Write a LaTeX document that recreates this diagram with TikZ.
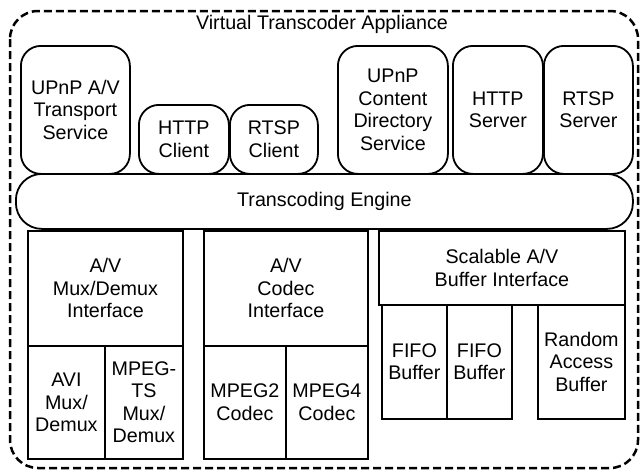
\documentclass[tikz,border=0pt]{standalone}
\usepackage{fontspec}
\setmainfont{Liberation Sans}
\begin{document}
\begin{tikzpicture}[x=0.5pt, y=-0.5pt,
			box/.style 2 args={draw, line width=0.9pt, minimum width=0.5pt*#1, minimum height=0.5pt*#2, inner sep=0pt, anchor=north west, align=center},
			rbox/.style 2 args={box={#1}{#2}, rounded corners=10pt},
			font=\fontsize{9.85}{11.25}\selectfont]
			\useasboundingbox (0,0) rectangle (641,472); % Bildbereich
			% Rahmen
			\draw[line width=1.25pt, dash pattern=on 4pt off 2pt, rounded corners=14pt] (10,11) rectangle (638,468);
			\node (title) at (322,24) {Virtual Transcoder Appliance};
			% Dienste oben
			\node[rbox={109}{128}] (upnpav) at (20,45) {UPnP A/V\\Transport\\Service};
			\node[rbox={90}{69}] (httpc) at (138,104) {HTTP\\Client};
			\node[rbox={88}{69}] (rtspc) at (229,104) {RTSP\\Client};
			\node[rbox={110}{128}] (upnpcd) at (337,45) {UPnP\\Content\\Directory\\Service};
			\node[rbox={90}{128}] (https) at (452,45) {HTTP\\Server};
			\node[rbox={89}{128}] (rtsps) at (543,45) {RTSP\\Server};
			% Engine
			\node[box={617}{55}, rounded corners=13pt] (engine) at (15,173) {Transcoding Engine};
			% Mux/Demux
			\node[box={155}{115}] (muxif) at (27,230) {A/V\\Mux/Demux\\Interface};
			\node[box={77}{113}] (avi) at (27,345) {AVI\\Mux/\\Demux};
			\node[box={78}{113}] (mpegts) at (104,345) {MPEG-\\TS\\Mux/\\Demux};
			% Codecs
			\node[box={164}{115}] (codecif) at (203,230) {A/V\\Codec\\Interface};
			\node[box={82}{113}] (mpeg2) at (203,345) {MPEG2\\Codec};
			\node[box={82}{113}] (mpeg4) at (285,345) {MPEG4\\Codec};
			% Puffer
			\node[box={246}{74}] (bufif) at (378,230) {Scalable A/V\\Buffer Interface};
			\node[box={65}{114}] (fifoa) at (381,304) {FIFO\\Buffer};
			\node[box={65}{114}] (fifob) at (446,304) {FIFO\\Buffer};
			\node[box={87}{114}] (rab) at (537,304) {Random\\Access\\Buffer};
		\end{tikzpicture}
\end{document}
